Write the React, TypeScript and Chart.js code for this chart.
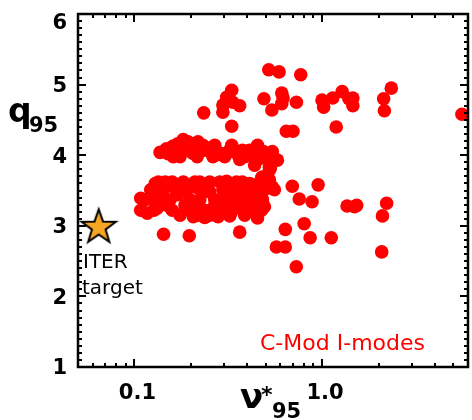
import { useEffect, useRef } from "react";
import { Chart, registerables } from "chart.js";

Chart.register(...registerables);

// Collisionality (nu*_95) of each C-Mod I-mode discharge
const nuStar: number[] = [
  // upper scattered group
  0.52, 0.59, 0.77, 2.34, 0.49, 0.61, 0.62, 0.61, 0.73, 0.54,
  1.0, 1.02, 1.14, 1.28, 1.39, 1.46, 1.46, 2.13, 2.15, 5.57,
  0.645, 0.7, 1.19, 0.33, 0.31, 0.296, 0.334, 0.364, 0.296, 0.234, 0.33,
  // right side of the main group and the lower tail
  0.41, 0.487, 0.543, 0.437, 0.537, 0.437, 0.53, 0.476, 0.512, 0.694,
  0.953, 0.524, 0.426, 0.437, 0.543, 0.756, 0.885, 0.426, 0.481, 0.493,
  0.453, 1.36, 1.49, 1.53, 2.21, 2.1, 0.803, 0.637, 0.864, 1.12,
  0.571, 0.637, 2.08, 0.729, 0.364,
  // q95 ~ 4 band
  0.148, 0.161, 0.182, 0.218, 0.252, 0.285, 0.31, 0.35, 0.161, 0.216,
  0.262, 0.364, 0.448, 0.524, 0.137, 0.198, 0.237, 0.322, 0.387, 0.175,
  0.303, 0.17, 0.205, 0.27,
  0.151, 0.171, 0.193, 0.204, 0.232, 0.268, 0.279, 0.33, 0.376, 0.453,
  0.481, 0.578,
  // q95 ~ 3.2-3.7 band
  0.134, 0.129, 0.159, 0.182, 0.21, 0.252, 0.31, 0.35, 0.411, 0.481,
  0.108, 0.122, 0.141, 0.161, 0.191, 0.216, 0.252, 0.296, 0.35, 0.397,
  0.448, 0.481, 0.117, 0.132, 0.15, 0.175, 0.198, 0.218, 0.252, 0.285,
  0.33, 0.364, 0.411, 0.143, 0.196,
  0.146, 0.171, 0.237, 0.268, 0.322, 0.223, 0.186, 0.376, 0.155, 0.303,
  0.125, 0.387, 0.279, 0.206, 0.237, 0.322, 0.437,
  0.146, 0.223, 0.285, 0.376, 0.524,
  0.122, 0.175, 0.237, 0.322, 0.493, 0.557,
  0.114, 0.137, 0.198, 0.342, 0.387,
  0.108, 0.127, 0.159, 0.237, 0.314, 0.411, 0.476,
  0.21, 0.268, 0.334,
];

// Edge safety factor q95 of the same discharges
const q95: number[] = [
  5.21, 5.18, 5.14, 4.95, 4.8, 4.88, 4.81, 4.73, 4.75, 4.64,
  4.78, 4.68, 4.81, 4.9, 4.8, 4.81, 4.7, 4.8, 4.63, 4.58,
  4.34, 4.34, 4.4, 4.92, 4.82, 4.71, 4.75, 4.7, 4.61, 4.6, 4.41,
  4.07, 4.05, 4.05, 3.97, 3.93, 3.86, 3.82, 3.68, 3.62, 3.56,
  3.58, 3.79, 3.58, 3.51, 3.55, 3.38, 3.34, 3.32, 3.34, 3.27,
  3.11, 3.28, 3.27, 3.29, 3.32, 3.14, 3.03, 2.95, 2.83, 2.83,
  2.7, 2.7, 2.63, 2.42, 2.91,
  4.09, 4.13, 4.22, 4.19, 4.1, 4.03, 4.03, 4.03, 3.98, 3.98,
  3.98, 3.94, 3.93, 3.83, 4.04, 4.1, 4.07, 4.07, 3.98, 3.98,
  3.98, 4.16, 4.14, 4.05,
  4.02, 4.07, 4.19, 4.03, 4.14, 4.14, 4.01, 4.14, 4.07, 4.14,
  3.96, 3.93,
  3.62, 3.6, 3.62, 3.62, 3.62, 3.62, 3.63, 3.62, 3.6, 3.69,
  3.39, 3.41, 3.48, 3.55, 3.51, 3.54, 3.48, 3.51, 3.46, 3.48,
  3.54, 3.37, 3.18, 3.25, 3.29, 3.15, 3.22, 3.15, 3.15, 3.22,
  3.2, 3.27, 3.37, 2.88, 2.86,
  3.56, 3.44, 3.56, 3.37, 3.56, 3.37, 3.29, 3.58, 3.37, 3.37,
  3.37, 3.15, 3.13, 3.13, 3.12, 3.14, 3.37,
  3.62, 3.62, 3.62, 3.62, 3.65,
  3.51, 3.51, 3.51, 3.51, 3.51, 3.51,
  3.37, 3.37, 3.37, 3.37, 3.37,
  3.22, 3.22, 3.22, 3.22, 3.22, 3.22, 3.22,
  3.29, 3.29, 3.29,
];

// ITER operating point
const iterNu: number[] = [0.0645];
const iterQ: number[] = [3.0];

// Axis ranges and labelled ticks
const xRange: number[] = [0.05, 6];
const yRange: number[] = [1, 6];
const xTickValues: number[] = [0.1, 1.0];
const xTickLabels: string[] = ["0.1", "1.0"];
const yTickValues: number[] = [1, 2, 3, 4, 5, 6];
const yTickLabels: string[] = ["1", "2", "3", "4", "5", "6"];

const FONT = "'DejaVu Sans', Verdana, sans-serif";

function makeStar(): HTMLCanvasElement {
  const size = 42;
  const c = document.createElement("canvas");
  c.width = size;
  c.height = size;
  const g = c.getContext("2d")!;
  const cx = size / 2;
  const cy = size / 2 + 1.5;
  const R = 18;
  const r = R * 0.4;
  g.beginPath();
  for (let i = 0; i < 10; i++) {
    const rad = i % 2 === 0 ? R : r;
    const ang = -Math.PI / 2 + (i * Math.PI) / 5;
    const px = cx + rad * Math.cos(ang);
    const py = cy + rad * Math.sin(ang);
    if (i === 0) g.moveTo(px, py);
    else g.lineTo(px, py);
  }
  g.closePath();
  g.fillStyle = "#f6a623";
  g.fill();
  g.lineWidth = 2;
  g.lineJoin = "miter";
  g.strokeStyle = "#000";
  g.stroke();
  return c;
}

// Boxed frame with inward ticks on all four sides, plus all axis text
const framePlugin = {
  id: "frameAndText",
  afterDatasetsDraw(chart: any) {
    const { ctx, chartArea: a, scales } = chart;
    const xs = scales.x;
    const ys = scales.y;
    ctx.save();
    ctx.strokeStyle = "#000";
    ctx.lineWidth = 2;
    ctx.lineCap = "butt";

    // y ticks: major every 1, minor every 0.1
    for (let i = yRange[0] * 10; i <= yRange[1] * 10; i++) {
      const py = Math.round(ys.getPixelForValue(i / 10));
      const len = i % 10 === 0 ? 8 : 4;
      ctx.beginPath();
      ctx.moveTo(a.left, py);
      ctx.lineTo(a.left + len, py);
      ctx.moveTo(a.right, py);
      ctx.lineTo(a.right - len, py);
      ctx.stroke();
    }
    // x ticks: logarithmic, major at decades
    for (const dec of [0.01, 0.1, 1, 10]) {
      for (let m = 1; m <= 9; m++) {
        const v = m * dec;
        if (v < xRange[0] || v > xRange[1]) continue;
        const px = Math.round(xs.getPixelForValue(v));
        const len = m === 1 ? 8 : 4;
        ctx.beginPath();
        ctx.moveTo(px, a.bottom);
        ctx.lineTo(px, a.bottom - len);
        ctx.moveTo(px, a.top);
        ctx.lineTo(px, a.top + len);
        ctx.stroke();
      }
    }
    ctx.lineWidth = 2.5;
    ctx.strokeRect(a.left, a.top, a.right - a.left, a.bottom - a.top);

    ctx.fillStyle = "#000";
    // y tick labels
    ctx.font = `bold 21px ${FONT}`;
    ctx.textAlign = "right";
    ctx.textBaseline = "middle";
    yTickValues.forEach((v, i) => {
      const py = Math.max(ys.getPixelForValue(v) + 2, a.top + 10);
      ctx.fillText(yTickLabels[i], a.left - 11, py);
    });
    // x tick labels
    ctx.textAlign = "center";
    ctx.textBaseline = "alphabetic";
    xTickValues.forEach((v, i) => {
      ctx.fillText(xTickLabels[i], xs.getPixelForValue(v) + 3, a.bottom + 32);
    });

    // y title: q95
    ctx.textAlign = "left";
    ctx.font = `bold 33px ${FONT}`;
    ctx.fillText("q", 8, 122);
    ctx.font = `bold 21px ${FONT}`;
    ctx.fillText("95", 29, 132);

    // x title: nu*95
    ctx.font = `bold 34px ${FONT}`;
    ctx.fillText("\u03bd", 240, 408);
    ctx.font = `bold 22px ${FONT}`;
    ctx.fillText("*", 261, 402);
    ctx.font = `bold 21px ${FONT}`;
    ctx.fillText("95", 272, 418);

    // annotations
    ctx.font = `20px ${FONT}`;
    ctx.fillText("ITER", 83, 268);
    ctx.fillText("target", 82, 294);

    ctx.fillStyle = "#ff0000";
    ctx.font = `22px ${FONT}`;
    ctx.fillText("C-Mod I-modes", 260, 350);
    ctx.restore();
  },
};

export default function App() {
  const canvasRef = useRef<HTMLCanvasElement | null>(null);

  useEffect(() => {
    const canvas = canvasRef.current;
    if (!canvas) return;
    const chart = new Chart(canvas, {
      type: "scatter",
      data: {
        datasets: [
          {
            label: "C-Mod I-modes",
            data: nuStar.map((x, i) => ({ x, y: q95[i] })),
            backgroundColor: "#ff0000",
            borderColor: "#ff0000",
            borderWidth: 0,
            pointRadius: 6.8,
            pointHoverRadius: 6.8,
          },
          {
            label: "ITER target",
            data: iterNu.map((x, i) => ({ x, y: iterQ[i] })),
            pointStyle: makeStar(),
            pointRadius: 18,
          },
        ],
      },
      options: {
        responsive: false,
        animation: false,
        layout: { autoPadding: false, padding: { left: 78, right: 4, top: 14, bottom: 53 } },
        plugins: {
          legend: { display: false },
          tooltip: { enabled: false },
        },
        events: [],
        scales: {
          x: { type: "logarithmic", min: xRange[0], max: xRange[1], display: false },
          y: { type: "linear", min: yRange[0], max: yRange[1], display: false },
        },
      },
      plugins: [framePlugin],
    });
    return () => chart.destroy();
  }, []);

  return (
    <div style={{ position: "fixed", left: 0, top: 0, width: 472, height: 420, background: "#fff" }}>
      <canvas ref={canvasRef} width={472} height={420} style={{ width: 472, height: 420 }} />
    </div>
  );
}
